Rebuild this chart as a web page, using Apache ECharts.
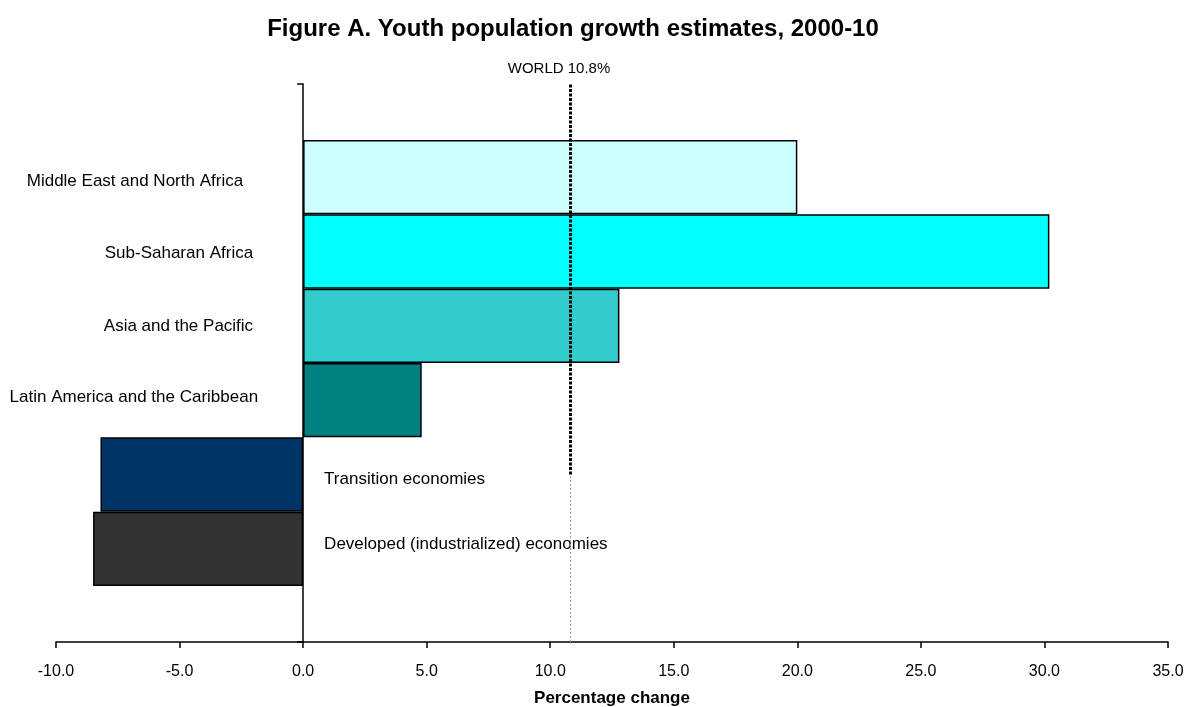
<!DOCTYPE html>
<html>
<head>
<meta charset="utf-8">
<script src="https://cdn.jsdelivr.net/npm/echarts@6/dist/echarts.min.js"></script>
<style>
  html, body { margin: 0; padding: 0; background: #fff; }
  #chart { width: 1185px; height: 707px; }
</style>
</head>
<body>
<div id="chart"></div>
<script>
// ---- DATA ----
const categories = [
  'Middle East and North Africa',
  'Sub-Saharan Africa',
  'Asia and the Pacific',
  'Latin America and the Caribbean',
  'Transition economies',
  'Developed (industrialized) economies'
];
const growthValues = [20.0, 30.2, 12.8, 4.8, -8.2, -8.5];
const worldValue = 10.8;
const worldLabel = 'WORLD 10.8%';
const xTicks = [-10, -5, 0, 5, 10, 15, 20, 25, 30, 35];

// ---- STYLE ----
const barColors = ['#CCFFFF', '#00FFFF', '#33CCCC', '#008080', '#003366', '#333333'];
const labelNudges = [[-10, 4], [0, 2], [0, 0], [5, -3], [0, 5], [0, -5]];
const FONT = 'Arial, "Liberation Sans", sans-serif';

const chart = echarts.init(document.getElementById('chart'), null, { renderer: 'canvas' });

const barData = growthValues.map((v, i) => ({
  value: v,
  itemStyle: { color: barColors[i] },
  label: v < 0
    ? { position: 'right', distance: 21, offset: labelNudges[i] }
    : { position: 'left', distance: 50, offset: labelNudges[i] }
}));

const xMin = xTicks[0], xMax = xTicks[xTicks.length - 1], xStep = xTicks[1] - xTicks[0];

chart.setOption({
  animation: false,
  backgroundColor: '#ffffff',
  title: {
    text: 'Figure A. Youth population growth estimates, 2000-10',
    left: 568,
    textAlign: 'center',
    top: 12,
    textStyle: { fontFamily: FONT, fontSize: 24, fontWeight: 'bold', color: '#000' }
  },
  grid: [
    { left: 56, right: 17, top: 84, bottom: 65, containLabel: false, outerBoundsMode: 'none' },
    { left: 56, right: 17, top: 140, bottom: 121, containLabel: false, outerBoundsMode: 'none' }
  ],
  xAxis: [
    {
      gridIndex: 0,
      type: 'value',
      min: xMin, max: xMax, interval: xStep,
      name: 'Percentage change',
      nameLocation: 'middle',
      nameGap: 48,
      nameTextStyle: { fontFamily: FONT, fontSize: 17, fontWeight: 'bold', color: '#000' },
      axisLine: { show: true, onZero: false, lineStyle: { color: '#000', width: 1.5 } },
      axisTick: { show: true, length: 6, lineStyle: { color: '#000', width: 1.5 } },
      axisLabel: {
        margin: 22, fontFamily: FONT, fontSize: 16, color: '#000',
        formatter: v => v.toFixed(1)
      },
      splitLine: { show: false }
    },
    {
      gridIndex: 1,
      type: 'value',
      min: xMin, max: xMax, interval: xStep,
      show: false
    }
  ],
  yAxis: [
    {
      gridIndex: 0,
      type: 'value',
      min: 0, max: 1, interval: 1,
      axisLine: { show: true, onZero: true, lineStyle: { color: '#000', width: 1.5 } },
      axisTick: { show: true, length: 6, lineStyle: { color: '#000', width: 1.5 } },
      axisLabel: { show: false },
      splitLine: { show: false }
    },
    {
      gridIndex: 1,
      type: 'category',
      data: categories,
      inverse: true,
      show: false
    }
  ],
  series: [
    {
      type: 'bar',
      xAxisIndex: 1,
      yAxisIndex: 1,
      barWidth: '100%',
      data: barData,
      itemStyle: { borderColor: '#000', borderWidth: 1.5 },
      label: {
        show: true,
        formatter: '{b}',
        fontFamily: FONT,
        fontSize: 17,
        color: '#000'
      },
      z: 2
    },
    {
      type: 'line',
      xAxisIndex: 0,
      yAxisIndex: 0,
      data: [],
      z: 5,
      markLine: {
        silent: true,
        symbol: ['none', 'none'],
        data: [
          [
            { coord: [worldValue, 0.3], lineStyle: { color: '#000', width: 3, type: [3, 1.5] } },
            {
              coord: [worldValue, 1],
              label: {
                show: true, position: 'end', formatter: worldLabel,
                fontFamily: FONT, fontSize: 15, color: '#000',
                padding: [0, 22, 0, 0], distance: 8
              }
            }
          ],
          [
            { coord: [worldValue, 0], lineStyle: { color: '#999', width: 1, type: [2, 2] } },
            { coord: [worldValue, 0.3], label: { show: false } }
          ]
        ],
        label: { show: false }
      }
    }
  ]
});
</script>
</body>
</html>
